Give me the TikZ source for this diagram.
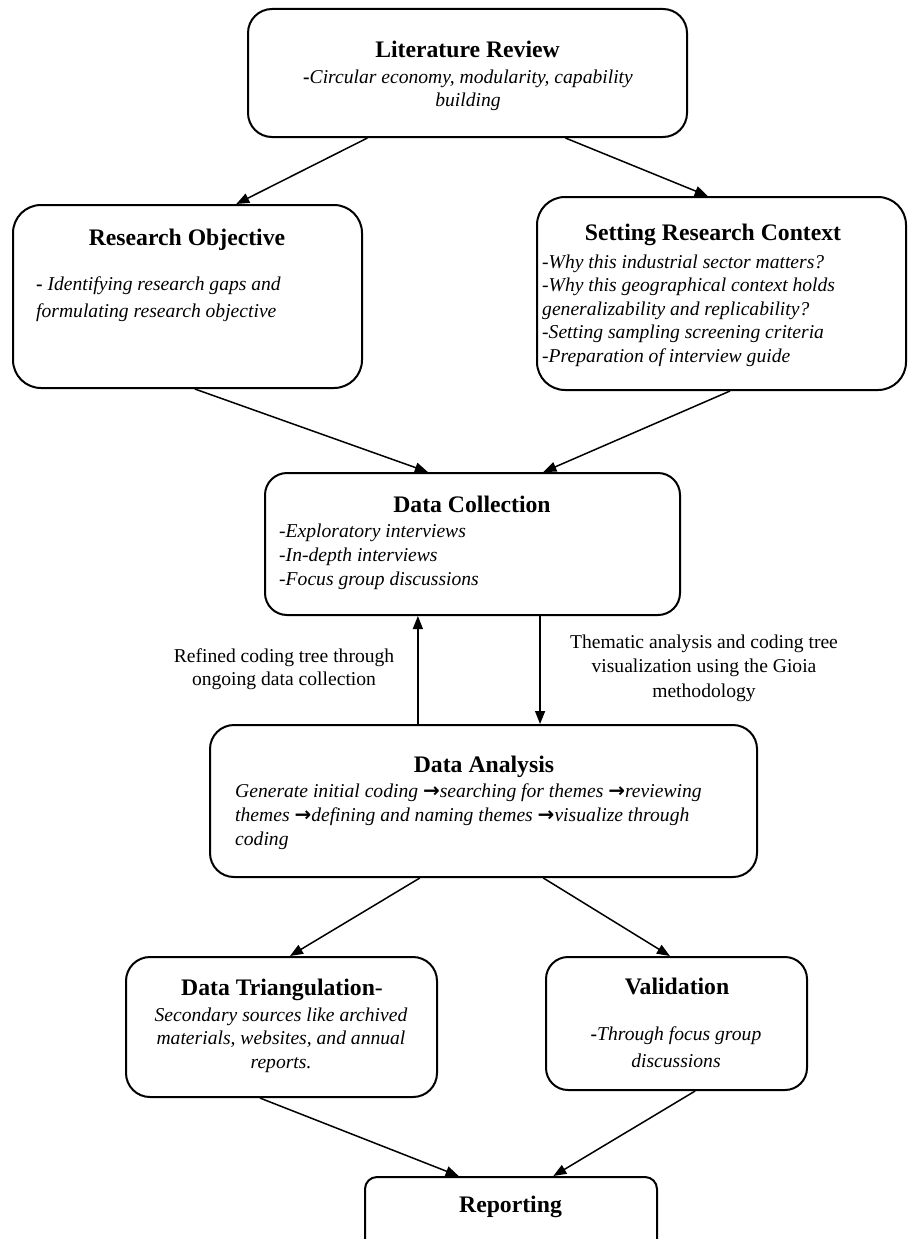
\documentclass[tikz,border=0pt]{standalone}
\usepackage{fontspec}
\setmainfont{Liberation Serif}
\newfontfamily\arrowfont{DejaVu Sans}
\usetikzlibrary{arrows.meta,calc}
\tikzset{
  box/.style={draw=black, line width=2pt, fill=white, inner sep=0pt},
  ttl/.style={font={\fontsize{23.7}{28}\selectfont\bfseries}, inner sep=0pt, anchor=base},
  bodyl/.style={font={\fontsize{19.6}{#1}\selectfont\itshape}, inner sep=0pt, anchor=north west, align=left},
  bodyc/.style={font={\fontsize{19.6}{#1}\selectfont\itshape}, inner sep=0pt, anchor=north, align=center},
  lbl/.style={font={\fontsize{19.6}{#1}\selectfont}, inner sep=0pt, anchor=north, align=center},
  arr/.style={draw=black, line width=1.5pt, -{Triangle[length=13pt,width=10pt]}}
}
\newcommand\bh{{\upshape\bfseries -}}
\newcommand\ar{{\arrowfont\upshape\bfseries\fontsize{20}{20}\selectfont →}}
\begin{document}
\begin{tikzpicture}[x=1pt,y=-1pt]
\useasboundingbox (0,0) rectangle (908,1239);
% boxes
\node[box, minimum width=439pt, minimum height=128pt, rounded corners=24pt] (lr) at (467.5,73) {};
\node[box, minimum width=349pt, minimum height=183pt, rounded corners=28pt] (ro) at (187.5,296.5) {};
\node[box, minimum width=369pt, minimum height=193pt, rounded corners=28pt] (src) at (721.5,293.5) {};
\node[box, minimum width=415pt, minimum height=142pt, rounded corners=22pt] (dc) at (472.5,544) {};
\node[box, minimum width=547pt, minimum height=152pt, rounded corners=24pt] (da) at (483.5,801) {};
\node[box, minimum width=311pt, minimum height=140pt, rounded corners=24pt] (dt) at (281.5,1027) {};
\node[box, minimum width=261pt, minimum height=133pt, rounded corners=22pt] (va) at (676.5,1023.5) {};
\node[box, minimum width=292pt, minimum height=80pt, rounded corners=12pt] (rep) at (511,1217) {};
% texts
\node[ttl] (lrt) at (467.5,57) {Literature Review};
\node[bodyc=23] (lrb) at (468,66.9) {\strut\bh Circular economy, modularity, capability\\building};
\node[ttl] (rot) at (187,245) {Research Objective};
\node[bodyl=27.7] (rob) at (36,270.6) {\strut\bh{} Identifying research gaps and\\formulating research objective};
\node[ttl] (srct) at (713,240) {Setting Research Context};
\node[bodyl=23.5] (srcb) at (542,251.5) {\strut-Why this industrial sector matters?\\-Why this geographical context holds\\generalizability and replicability?\\-Setting sampling screening criteria\\-Preparation of interview guide};
\node[ttl] (dct) at (472,512) {Data Collection};
\node[bodyl=24] (dcb) at (279,520.2) {\strut-Exploratory interviews\\-In-depth interviews\\-Focus group discussions};
\node[ttl] (dat) at (484,772) {Data Analysis};
\node[bodyl=24] (dab) at (235,780.2) {\strut Generate initial coding \ar{}searching for themes \ar{}reviewing\\themes \ar{}defining and naming themes \ar{}visualize through\\coding};
\node[ttl] (dtt) at (282,995) {Data Triangulation{\mdseries -}};
\node[bodyc=23.5] (dtb) at (281,1004.5) {\strut Secondary sources like archived\\materials, websites, and annual\\reports.};
\node[ttl] (vat) at (677,994) {Validation};
\node[bodyc=27] (vab) at (676,1021.1) {\strut\bh Through focus group\\discussions};
\node[ttl] (rept) at (510.5,1212) {Reporting};
\node[lbl=23.5] (l1) at (284,645.5) {\strut Refined coding tree through\\ongoing data collection};
\node[lbl=24.5] (l2) at (704,630.9) {\strut Thematic analysis and coding tree\\visualization using the Gioia\\methodology};
% connector anchor points
\coordinate (lrA) at ($(lr.south west)!0.273!(lr.south east)$);
\coordinate (lrB) at ($(lr.south west)!0.722!(lr.south east)$);
\coordinate (roIn) at ($(ro.north west)!0.639!(ro.north east)$);
\coordinate (srcIn) at ($(src.north west)!0.463!(src.north east)$);
\coordinate (roOut) at ($(ro.south west)!0.521!(ro.south east)$);
\coordinate (srcOut) at ($(src.south west)!0.523!(src.south east)$);
\coordinate (dcInA) at ($(dc.north west)!0.393!(dc.north east)$);
\coordinate (dcInB) at ($(dc.north west)!0.670!(dc.north east)$);
\coordinate (dcUp) at ($(dc.south west)!0.369!(dc.south east)$);
\coordinate (dcDown) at ($(dc.south west)!0.662!(dc.south east)$);
\coordinate (daA) at ($(da.south west)!0.384!(da.south east)$);
\coordinate (daB) at ($(da.south west)!0.609!(da.south east)$);
\coordinate (dtIn) at ($(dt.north west)!0.527!(dt.north east)$);
\coordinate (vaIn) at ($(va.north west)!0.475!(va.north east)$);
\coordinate (dtOut) at ($(dt.south west)!0.431!(dt.south east)$);
\coordinate (vaOut) at ($(va.south west)!0.571!(va.south east)$);
\coordinate (repA) at ($(rep.north west)!0.322!(rep.north east)$);
\coordinate (repB) at ($(rep.north west)!0.644!(rep.north east)$);
% connectors
\draw[arr] (lrA) -- (roIn);
\draw[arr] (lrB) -- (srcIn);
\draw[arr] (roOut) -- (dcInA);
\draw[arr] (srcOut) -- (dcInB);
\draw[arr] (dcUp |- da.north) -- (dcUp);
\draw[arr] (dcDown) -- (dcDown |- da.north);
\draw[arr] (daA) -- (dtIn);
\draw[arr] (daB) -- (vaIn);
\draw[arr] (dtOut) -- (repA);
\draw[arr] (vaOut) -- (repB);
\end{tikzpicture}
\end{document}
